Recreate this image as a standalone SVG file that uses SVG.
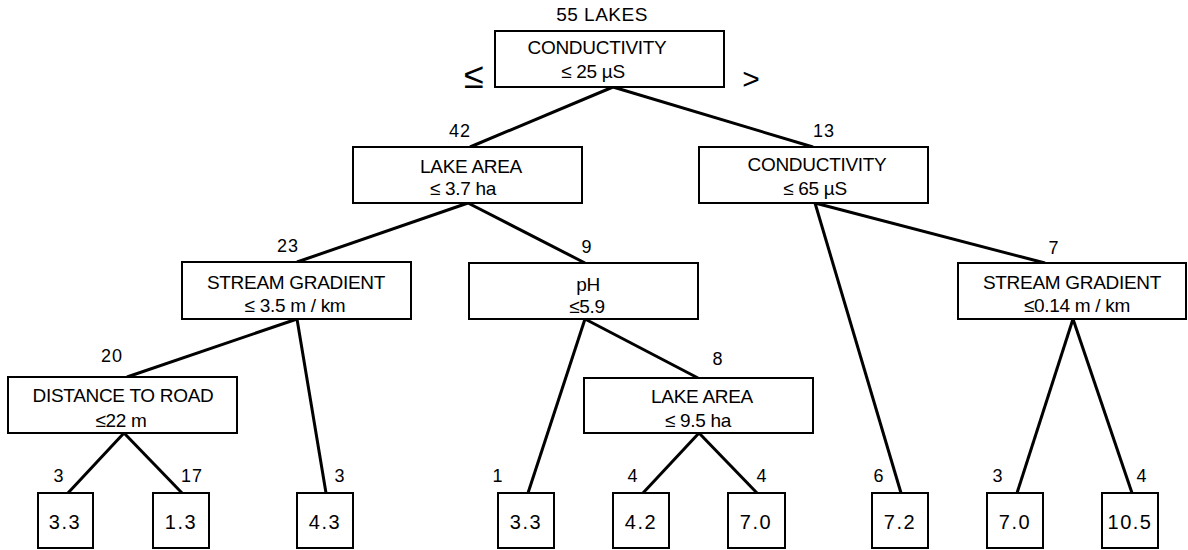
<svg xmlns="http://www.w3.org/2000/svg" width="1188" height="550" viewBox="0 0 1188 550">
<style>
  .box { fill: #fff; stroke: #000; stroke-width: 2; }
  .edge { stroke: #000; stroke-width: 3; fill: none; stroke-linecap: butt; }
  text { font-family: "Liberation Sans", Arial, sans-serif; fill: #000; text-anchor: middle; }
  .t { font-size: 19px; letter-spacing: -0.3px; }
  .n { font-size: 18px; letter-spacing: 1px; }
  .v { font-size: 20px; letter-spacing: 1.5px; }
</style>
<rect width="1188" height="550" fill="#fff"/>
<g id="connectors">
  <line class="edge" x1="613" y1="87" x2="470" y2="147"/>
  <line class="edge" x1="613" y1="87" x2="813" y2="147"/>
  <line class="edge" x1="468" y1="203" x2="297" y2="262"/>
  <line class="edge" x1="468" y1="203" x2="585" y2="263"/>
  <line class="edge" x1="815" y1="203" x2="901" y2="493"/>
  <line class="edge" x1="815" y1="203" x2="1045" y2="263"/>
  <line class="edge" x1="297" y1="319" x2="127" y2="377"/>
  <line class="edge" x1="297" y1="319" x2="326" y2="493"/>
  <line class="edge" x1="585" y1="319" x2="528" y2="493"/>
  <line class="edge" x1="585" y1="319" x2="698" y2="378"/>
  <line class="edge" x1="124" y1="433" x2="68" y2="493"/>
  <line class="edge" x1="124" y1="433" x2="182" y2="493"/>
  <line class="edge" x1="699" y1="433" x2="643" y2="493"/>
  <line class="edge" x1="699" y1="433" x2="757" y2="493"/>
  <line class="edge" x1="1073" y1="319" x2="1017" y2="493"/>
  <line class="edge" x1="1073" y1="319" x2="1132" y2="493"/>
</g>
<g id="root">
  <text x="602" y="21" style="font-size:19px;letter-spacing:0.5px">55 LAKES</text>
  <rect class="box" x="495" y="31" width="229" height="56"/>
  <text class="t" x="597" y="54">CONDUCTIVITY</text>
  <text class="t" x="593" y="78">≤ 25 µS</text>
  <text x="474" y="88" style="font-size:36px">≤</text>
  <text x="751" y="89" style="font-size:30px">&gt;</text>
</g>
<g id="lake-area-1">
  <text class="n" x="460" y="137">42</text>
  <rect class="box" x="353" y="147" width="229" height="56"/>
  <text class="t" x="471" y="173">LAKE AREA</text>
  <text class="t" x="463" y="195">≤ 3.7 ha</text>
</g>
<g id="conductivity-2">
  <text class="n" x="824" y="137">13</text>
  <rect class="box" x="699" y="147" width="229" height="56"/>
  <text class="t" x="817" y="171">CONDUCTIVITY</text>
  <text class="t" x="815" y="195">≤ 65 µS</text>
</g>
<g id="stream-gradient-1">
  <text class="n" x="288" y="252">23</text>
  <rect class="box" x="182" y="262" width="229" height="57"/>
  <text class="t" x="296" y="289">STREAM GRADIENT</text>
  <text class="t" x="295" y="312">≤ 3.5 m / km</text>
</g>
<g id="ph">
  <text class="n" x="587" y="253">9</text>
  <rect class="box" x="469" y="263" width="229" height="56"/>
  <text class="t" x="588" y="291">pH</text>
  <text class="t" x="587" y="313">≤5.9</text>
</g>
<g id="stream-gradient-2">
  <text class="n" x="1054" y="254">7</text>
  <rect class="box" x="958" y="263" width="228" height="56"/>
  <text class="t" x="1072" y="289">STREAM GRADIENT</text>
  <text class="t" x="1077" y="312">≤0.14 m / km</text>
</g>
<g id="distance-to-road">
  <text class="n" x="112" y="362">20</text>
  <rect class="box" x="8" y="377" width="229" height="56"/>
  <text class="t" x="123" y="402">DISTANCE TO ROAD</text>
  <text class="t" x="121" y="427">≤22 m</text>
</g>
<g id="lake-area-2">
  <text class="n" x="718" y="365">8</text>
  <rect class="box" x="584" y="378" width="229" height="55"/>
  <text class="t" x="702" y="403">LAKE AREA</text>
  <text class="t" x="698" y="427">≤ 9.5 ha</text>
</g>
<g id="leaf-1">
  <text class="n" x="59" y="482">3</text>
  <rect class="box" x="38" y="493" width="55" height="55"/>
  <text class="v" x="65" y="529">3.3</text>
</g>
<g id="leaf-2">
  <text class="n" x="192" y="482">17</text>
  <rect class="box" x="153" y="493" width="56" height="55"/>
  <text class="v" x="181" y="529">1.3</text>
</g>
<g id="leaf-3">
  <text class="n" x="340" y="482">3</text>
  <rect class="box" x="297" y="493" width="56" height="55"/>
  <text class="v" x="325" y="529">4.3</text>
</g>
<g id="leaf-4">
  <text class="n" x="498" y="482">1</text>
  <rect class="box" x="498" y="493" width="56" height="55"/>
  <text class="v" x="526" y="529">3.3</text>
</g>
<g id="leaf-5">
  <text class="n" x="633" y="482">4</text>
  <rect class="box" x="613" y="493" width="56" height="55"/>
  <text class="v" x="641" y="529">4.2</text>
</g>
<g id="leaf-6">
  <text class="n" x="762" y="482">4</text>
  <rect class="box" x="728" y="493" width="57" height="55"/>
  <text class="v" x="756" y="529">7.0</text>
</g>
<g id="leaf-7">
  <text class="n" x="879" y="482">6</text>
  <rect class="box" x="872" y="493" width="56" height="55"/>
  <text class="v" x="900" y="529">7.2</text>
</g>
<g id="leaf-8">
  <text class="n" x="998" y="482">3</text>
  <rect class="box" x="987" y="493" width="56" height="55"/>
  <text class="v" x="1015" y="529">7.0</text>
</g>
<g id="leaf-9">
  <text class="n" x="1142" y="482">4</text>
  <rect class="box" x="1102" y="493" width="56" height="55"/>
  <text class="v" x="1130" y="529">10.5</text>
</g>
</svg>
